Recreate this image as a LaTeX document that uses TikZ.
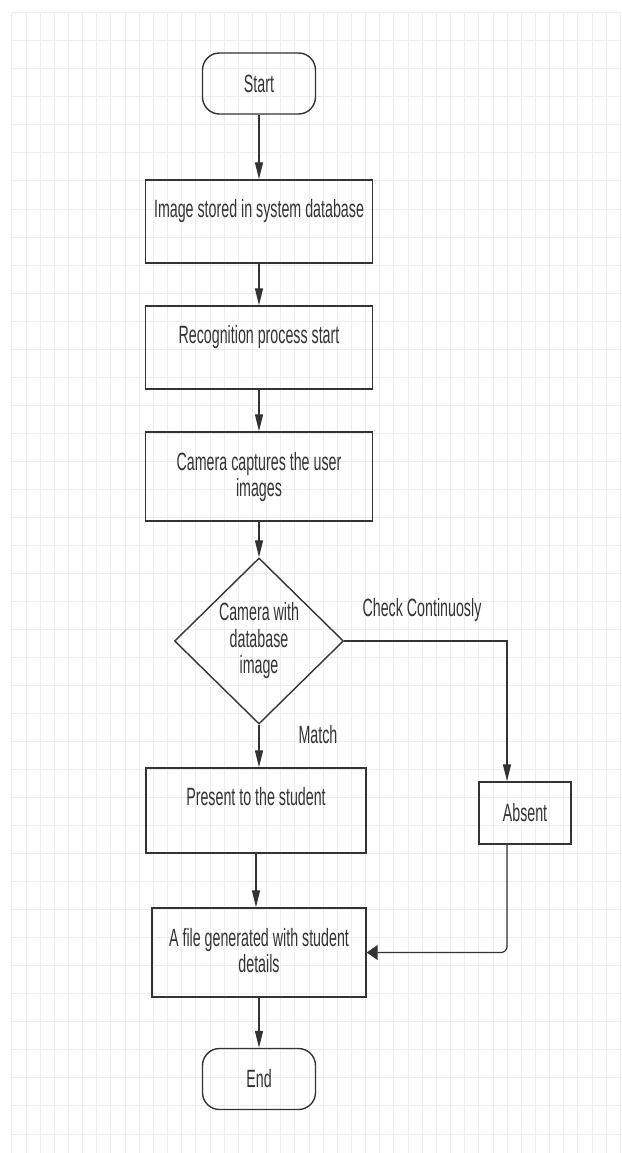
\documentclass[tikz,border=0pt]{standalone}
\usepackage{fontspec}
\setmainfont{Liberation Sans}[FakeStretch=0.57]
\usetikzlibrary{shapes.geometric,arrows.meta}

\begin{document}
\begin{tikzpicture}[x=1pt,y=-1pt,
	font=\fontsize{25}{26.5}\selectfont,
	gridline/.style={draw=black!7,line width=0.8pt},
	terminal/.style={draw=black!80,text=black!80,line width=1.4pt,rectangle,rounded corners=17pt,minimum width=113pt,minimum height=61pt,inner sep=0},
	procbox/.style={draw=black!80,text=black!80,line width=1.4pt,rectangle,text width=226pt,align=flush center,inner sep=0,text height=37pt,text depth=46pt,minimum width=227pt},
	smallbox/.style={draw=black!80,text=black!80,line width=1.4pt,rectangle,minimum width=92pt,minimum height=62pt,inner sep=0},
	decision/.style={draw=black!80,text=black!80,line width=1.4pt,diamond,aspect=1,inner sep=0,minimum width=169pt,minimum height=166pt,align=center},
	caption/.style={text=black!80,inner sep=0,anchor=base},
	link/.style={draw=black!80,line width=1.2pt},
	varrow/.style={link,-{Triangle[length=17pt,width=8pt]}},
	harrow/.style={link,-{Triangle[length=11pt,width=15pt]}}]
	\useasboundingbox (0,0) rectangle (621,1153);
	\foreach \gx in {0,...,43}
		\draw[gridline] ({11.8+14.15*\gx},12.7) -- ({11.8+14.15*\gx},1153);
	\foreach \gy in {0,...,40}
		\draw[gridline] (11.8,{12.7+28.03*\gy}) -- (621,{12.7+28.03*\gy});
	\node[terminal] (start) at (259,83.5) {Start};
	\node[procbox] (store) at (259,221.5) {Image stored in system database};
	\node[procbox] (recog) at (259,347.5) {Recognition process start};
	\node[procbox,text height=38pt,text depth=51pt] (capture) at (259,476.5) {Camera captures the user\\images};
	\node[decision] (check) at (259,641) {Camera with\\database\\image};
	\node[procbox,text depth=48pt,minimum width=220pt,text width=218pt] (present) at (256,810.5) {Present to the student};
	\node[smallbox] (absent) at (525,813) {Absent};
	\node[procbox,text height=38pt,text depth=51pt,minimum width=214pt,text width=212pt] (file) at (259,952.5) {A file generated with student\\details};
	\node[terminal] (stop) at (259,1079) {End};
	\node[caption] (contlbl) at (422,616) {Check Continuosly};
	\node[caption] (matchlbl) at (318,743) {Match};
	\draw[varrow] (start) -- (store);
	\draw[varrow] (store) -- (recog);
	\draw[varrow] (recog) -- (capture);
	\draw[varrow] (capture) -- (check);
	\draw[varrow] (check.south) -- (check.south |- present.north);
	\draw[varrow] (present.south) -- (present.south |- file.north);
	\draw[varrow] (check.east) -| ([xshift=-18pt]absent.north);
	\draw[harrow,rounded corners=6pt] ([xshift=-18pt]absent.south) |- (file.east);
	\draw[varrow] (file) -- (stop);
\end{tikzpicture}
\end{document}
